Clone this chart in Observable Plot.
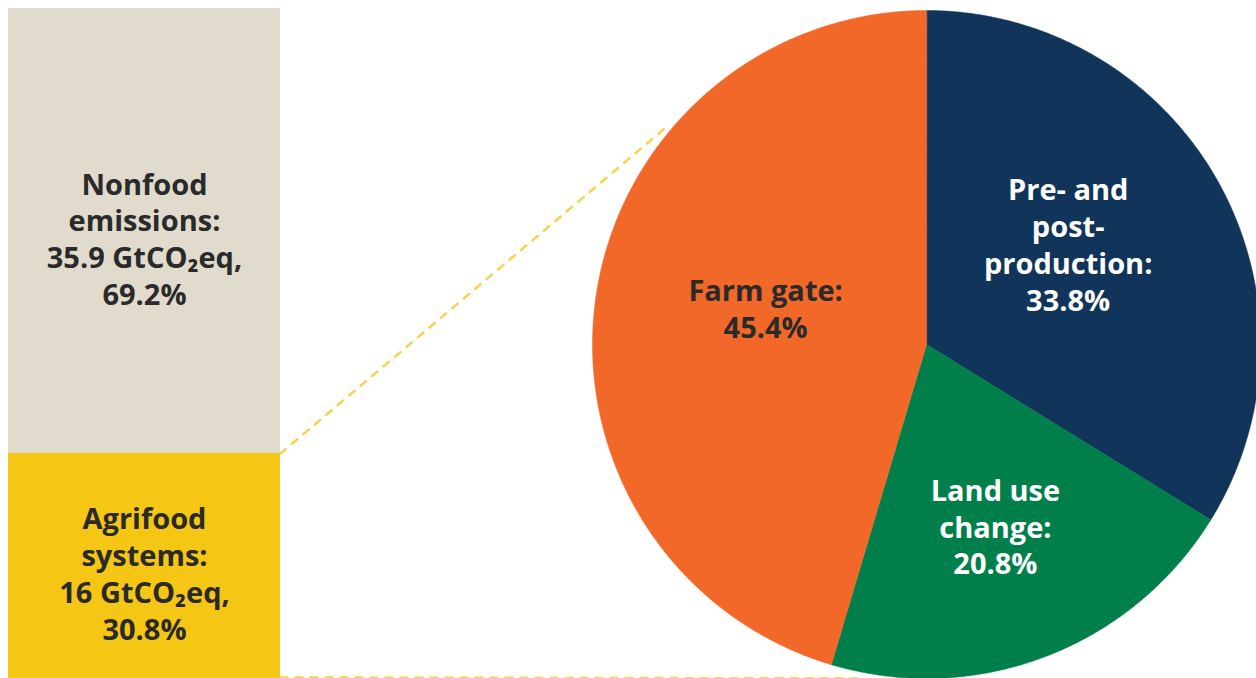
<!DOCTYPE html>
<html><head><meta charset="utf-8">
<script src="https://cdn.jsdelivr.net/npm/d3@7"></script>
<script src="https://cdn.jsdelivr.net/npm/@observablehq/plot@0.6"></script>
<style>
html,body{margin:0;padding:0;background:#fff;overflow:hidden;}
#chart{position:relative;width:1256px;height:678px;overflow:hidden;}
#chart svg{position:absolute;left:0;top:0;}
</style></head><body><div id="chart"></div>
<script>
// ---- data ----
const barCategories = ["Agrifood systems", "Nonfood emissions"];
const barLabelNames = ["Agrifood\nsystems", "Nonfood\nemissions"];
const barGt = ["16", "35.9"];
const barShares = [30.8, 69.2];

const sliceNames = ["Pre- and post-production", "Land use change", "Farm gate"];
const sliceLabelNames = ["Pre- and\npost-\nproduction", "Land use\nchange", "Farm gate"];
const sliceShares = [33.8, 20.8, 45.4];

// ---- styles / layout ----
const barColors = ["#f5c613", "#e0dbcc"];
const barTextDy = [20, 7];
const sliceColors = ["#11345a", "#007f4b", "#f26829"];
const sliceTextColors = ["#ffffff", "#ffffff", "#2a2a2a"];
const labelNudge = [[-10, -16], [7, 19], [11, -12]];
const W = 1256, H = 678;
const FONT = "'Open Sans', Lato, sans-serif";
const FS = 29;
const cx = 926, cy = 344, r = 334;
const barTop = 8, barSplit = 453;
const barZero = barSplit + (barSplit - barTop) * barShares[0] / (100 - barShares[0]);
const barExt = H - barZero; // bar is drawn running off the bottom edge

// ---- bar ----
const cum = d3.cumsum(barShares);
const barData = barCategories.map((name, i) => ({
  group: "Global", name, share: barShares[i], i,
  y1: cum[i] - barShares[i], y2: cum[i], mid: cum[i] - barShares[i] / 2,
  label: `${barLabelNames[i]}:\n${barGt[i]} GtCO₂eq,\n${barShares[i]}%`
}));

const barPlot = Plot.plot({
  width: W, height: H, margin: 0,
  style: {fontFamily: FONT, background: "transparent"},
  x: {type: "band", domain: ["Global"], range: [8, 280], padding: 0, axis: null},
  y: {domain: [0, 100], range: [barZero, barTop], axis: null},
  color: {domain: barCategories, range: barColors},
  marks: [
    Plot.barY(barData, {x: "group", y1: "y1", y2: "y2", fill: "name"}),
    Plot.barY(barData.slice(0, 1), {x: "group", y1: "y1", y2: "y2", fill: "name",
      insetBottom: -barExt}),
    ...barData.map((d, i) => Plot.text([d], {x: "group", y: "mid", text: "label",
      fill: "#2a2a2a", fontSize: FS, fontWeight: 700, lineHeight: 1.27, dy: barTextDy[i]}))
  ]
});

// ---- pie ----
const pie = d3.pie().sort(null).value(d => d.share)(
  sliceNames.map((name, i) => ({name, share: sliceShares[i], i}))
);
const slicePts = pie.flatMap(s => {
  const n = Math.max(2, Math.ceil((s.endAngle - s.startAngle) / (Math.PI / 360)));
  const pts = [{name: s.data.name, x: 0, y: 0}];
  for (let k = 0; k <= n; k++) {
    const a = s.startAngle + (s.endAngle - s.startAngle) * k / n;
    pts.push({name: s.data.name, x: Math.sin(a), y: Math.cos(a)});
  }
  return pts;
});
const sliceLabels = pie.map(s => {
  const a = (s.startAngle + s.endAngle) / 2, i = s.data.i;
  return {name: s.data.name, x: 0.52 * Math.sin(a), y: 0.52 * Math.cos(a),
    label: `${sliceLabelNames[i]}:\n${sliceShares[i]}%`, color: sliceTextColors[i],
    dx: labelNudge[i][0], dy: labelNudge[i][1]};
});

// connectors: from bar corners, tangent to the pie
const bx = barPlot.scale("x"), by = barPlot.scale("y");
const xRight = bx.apply("Global") + bx.bandwidth;
const toUnit = (px, py) => [(px - cx) / r, (cy - py) / r];
function tangentLine(px, py, upper, id) {
  const [ux, uy] = toUnit(px, py);
  const d = Math.hypot(ux, uy), phi = Math.atan2(uy, ux), t = Math.acos(1 / d);
  const c1 = [Math.cos(phi + t), Math.sin(phi + t)], c2 = [Math.cos(phi - t), Math.sin(phi - t)];
  const T = upper ? (c1[1] > c2[1] ? c1 : c2) : (c1[1] < c2[1] ? c1 : c2);
  const f = 0.9;
  return [{id, x: ux, y: uy}, {id, x: ux + (T[0] - ux) * f, y: uy + (T[1] - uy) * f}];
}
const connectors = [
  ...tangentLine(xRight, by.apply(barShares[0]), true, "top"),
  ...tangentLine(xRight, by.apply(0) + barExt - 1, false, "bottom")
];

const piePlot = Plot.plot({
  width: W, height: H, margin: 0,
  style: {fontFamily: FONT, background: "transparent"},
  x: {domain: [-1, 1], range: [cx - r, cx + r], axis: null},
  y: {domain: [-1, 1], range: [cy + r, cy - r], axis: null},
  color: {domain: sliceNames, range: sliceColors},
  marks: [
    Plot.line(connectors, {x: "x", y: "y", z: "id", stroke: "#f6cd3c", strokeWidth: 2.5,
      strokeDasharray: "7,8", strokeOpacity: 0.9}),
    Plot.line(slicePts, {x: "x", y: "y", z: "name", fill: "name", stroke: "name", strokeWidth: 0.5,
      curve: "linear-closed"}),
    ...sliceLabels.map(d => Plot.text([d], {x: "x", y: "y", text: "label", fill: d.color,
      fontSize: FS, fontWeight: 700, lineHeight: 1.27, dx: d.dx, dy: d.dy}))
  ]
});

const chart = document.getElementById("chart");
chart.appendChild(barPlot);
chart.appendChild(piePlot);
</script>
</body></html>
